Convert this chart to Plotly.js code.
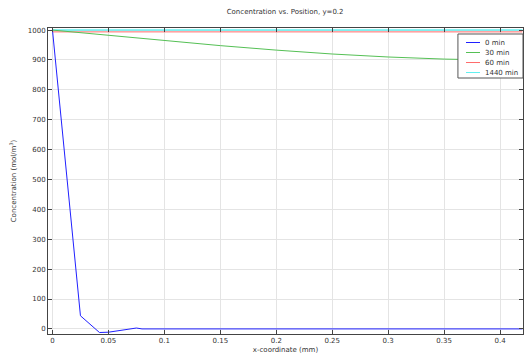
<!DOCTYPE html>
<html><head><meta charset="utf-8">
<script src="https://cdn.plot.ly/plotly-3.0.1.min.js"></script>
<style>body{margin:0;background:#fff}#c{width:528px;height:354px}</style>
</head><body><div id="c"></div>
<script>
const x0 = [0, 0.025, 0.042, 0.05, 0.075, 0.08, 0.42];
const y0 = [1000, 44, -12, -11, 3, 0, 0];
const x30 = [0, 0.05, 0.1, 0.15, 0.2, 0.25, 0.3, 0.35, 0.42];
const y30 = [1000, 982, 964, 948, 933, 920, 910, 903, 898];
const x60 = [0, 0.42];
const y60 = [994, 994];
const x1440 = [0, 0.42];
const y1440 = [1000, 1000];
const names = ["0 min", "30 min", "60 min", "1440 min"];
const colors = ["#2020ff", "#55c055", "#ff6a6a", "#60f0f0"];
const xs = [x0, x30, x60, x1440];
const ys = [y0, y30, y60, y1440];
const traces = names.map((n, i) => ({
  x: xs[i], y: ys[i], name: n, type: 'scatter', mode: 'lines',
  line: {color: colors[i], width: i === 3 ? 1.5 : 1}
}));
const drawOrder = [3, 2, 1, 0].map(i => traces[i]);
const fam = 'DejaVu Sans, sans-serif';
const txt = {family: fam, size: 7, color: '#333'};

// custom compact legend
const shapes = [{type: 'rect', xref: 'paper', yref: 'paper', x0: 0.863, x1: 1.0, y0: 0.8366, y1: 0.9804,
  line: {color: '#555', width: 1}, fillcolor: '#fff', layer: 'above'}];
const annotations = [];
names.forEach((n, i) => {
  const yy = 0.9526 - i * 0.0327;
  shapes.push({type: 'line', xref: 'paper', yref: 'paper', x0: 0.88, x1: 0.9095, y0: yy, y1: yy,
    line: {color: colors[i], width: 1}, layer: 'above'});
  annotations.push({xref: 'paper', yref: 'paper', x: 0.9158, y: yy, text: n, showarrow: false,
    xanchor: 'left', yanchor: 'middle', font: txt});
});

const layout = {
  width: 528, height: 354,
  margin: {l: 48, r: 5, t: 28, b: 20},
  paper_bgcolor: '#fff', plot_bgcolor: '#fff',
  font: txt,
  title: {text: 'Concentration vs. Position, y=0.2', font: txt, x: 0.54, xanchor: 'center', y: 0.975, yanchor: 'top'},
  showlegend: false,
  shapes: shapes,
  annotations: annotations,
  xaxis: {
    range: [-0.004, 0.4205], tickvals: [0, 0.05, 0.1, 0.15, 0.2, 0.25, 0.3, 0.35, 0.4],
    ticktext: ['0', '0.05', '0.1', '0.15', '0.2', '0.25', '0.3', '0.35', '0.4'],
    showgrid: true, gridcolor: '#e4e4e4', gridwidth: 1, zeroline: false,
    showline: true, linecolor: '#444', linewidth: 1, mirror: 'ticks',
    ticks: 'inside', ticklen: 4, tickcolor: '#444',
    tickfont: txt,
    title: {text: 'x-coordinate (mm)', font: txt, standoff: 2}
  },
  yaxis: {
    range: [-17, 1007], tickvals: [0, 100, 200, 300, 400, 500, 600, 700, 800, 900, 1000],
    showgrid: true, gridcolor: '#e4e4e4', gridwidth: 1, zeroline: false,
    showline: true, linecolor: '#444', linewidth: 1, mirror: 'ticks',
    ticks: 'inside', ticklen: 4, tickcolor: '#444',
    tickfont: txt,
    title: {text: 'Concentration (mol/m<sup>3</sup>)', font: txt, standoff: 10}
  }
};
Plotly.newPlot('c', drawOrder, layout, {displayModeBar: false, staticPlot: true});
</script></body></html>
